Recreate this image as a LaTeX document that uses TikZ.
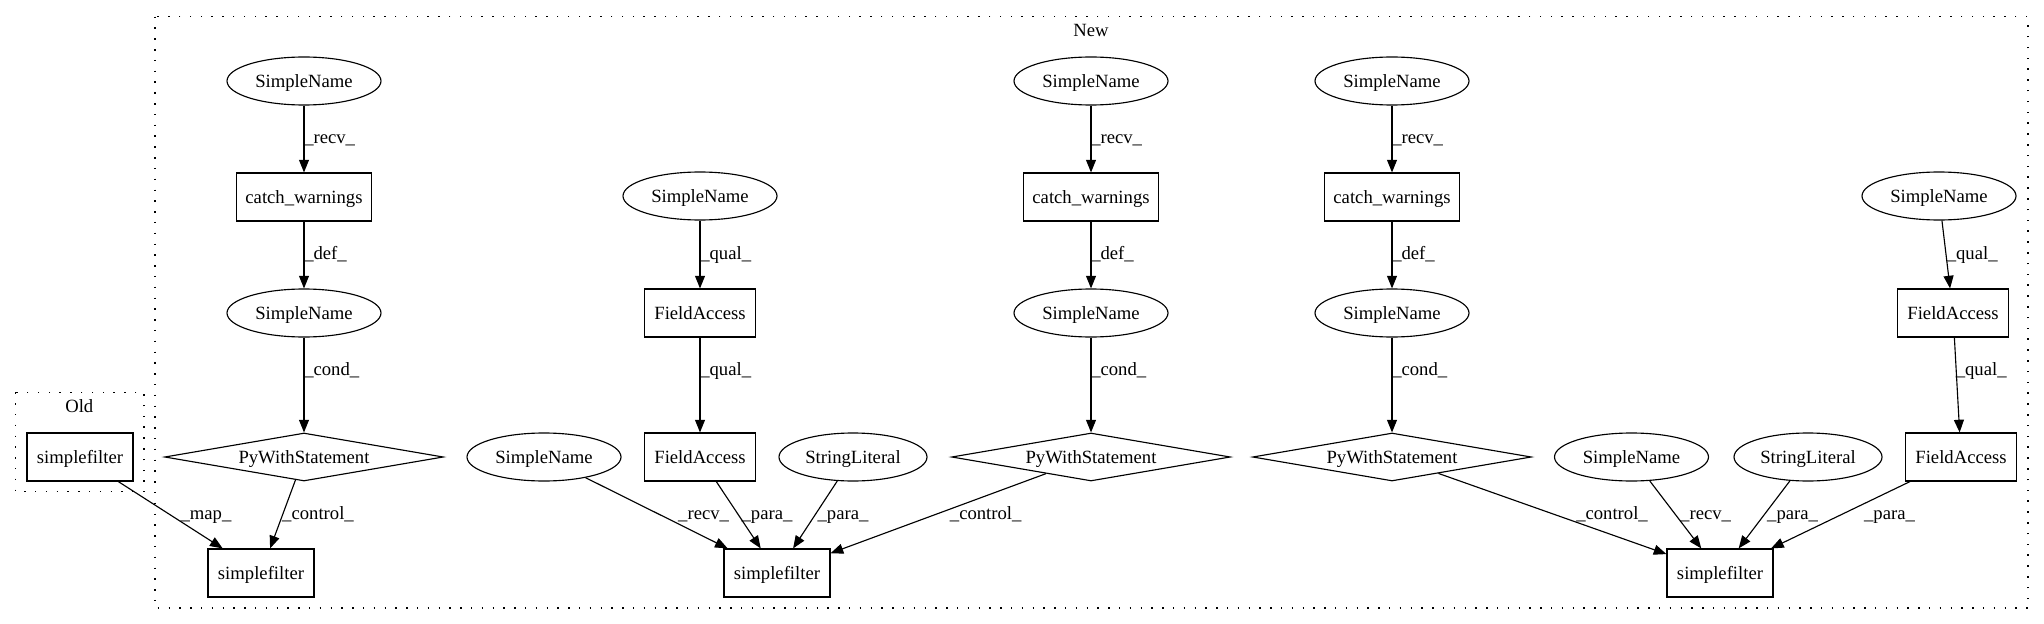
\documentclass[tikz,border=0pt]{standalone}
\usepackage{fontspec}
\setmainfont{Liberation Serif}
\usetikzlibrary{arrows.meta,shapes.geometric}
\begin{document}
\begin{tikzpicture}[x=0.75pt,y=-0.75pt,
  txt/.style={inner sep=0pt, font=\fontsize{14pt}{16pt}\selectfont, text height=11.4pt, text depth=2pt},
  base/.style={txt, draw, line width=0.85pt},
  ell/.style={base, ellipse, minimum width=115.5pt, minimum height=36pt},
  ellw/.style={ell, minimum width=111pt},
  cwbox/.style={base, rectangle, minimum height=36pt, minimum width=101.25pt},
  fabox/.style={base, rectangle, minimum height=36pt, minimum width=83pt},
  sfbox/.style={base, rectangle, minimum height=36pt, minimum width=79.5pt},
  dia/.style={base, diamond, aspect=6, minimum width=209pt, minimum height=36pt},
  lbl/.style={txt},
  lblw/.style={txt, anchor=west},
  edge/.style={line width=0.85pt, -{Triangle[length=9.5pt,width=7.5pt]}},
  cluster/.style={line width=1.1pt, dash pattern=on 1.1pt off 7pt},
]
\useasboundingbox (0,0) rectangle (2044,624);

% clusters
\draw[cluster] (15.6,392.3) rectangle (144,491.7);
\node[txt] (oldlbl) at (79.3,406) {Old};
\draw[cluster] (155,16.7) rectangle (2028,608);
\node[txt] (newlbl) at (1091,30) {New};

% Old
\node[sfbox] (sfold) at (80,457) {simplefilter};

% column 1
\node[ell] (sn1a) at (304,81) {SimpleName};
\node[cwbox] (cw1) at (304,197) {catch\_warnings};
\node[ell] (sn1b) at (304,313) {SimpleName};
\node[dia] (pw1) at (304,457) {PyWithStatement};
\node[sfbox] (sf1) at (261,573) {simplefilter};

% column 2
\node[ell] (sn2a) at (700,196) {SimpleName};
\node[fabox] (fa2a) at (700,313) {FieldAccess};
\node[fabox] (fa2b) at (700,457) {FieldAccess};
\node[ellw] (sl2) at (853,457) {StringLiteral};
\node[ell] (sn2b) at (544,457) {SimpleName};
\node[sfbox] (sf2) at (777,573) {simplefilter};

% column 3
\node[ell] (sn3a) at (1091,81) {SimpleName};
\node[cwbox] (cw3) at (1091,197) {catch\_warnings};
\node[ell] (sn3b) at (1091,313) {SimpleName};
\node[dia] (pw3) at (1091,457) {PyWithStatement};

% column 4
\node[ell] (sn4a) at (1392,81) {SimpleName};
\node[cwbox] (cw4) at (1392,197) {catch\_warnings};
\node[ell] (sn4b) at (1392,313) {SimpleName};
\node[dia] (pw4) at (1392,457) {PyWithStatement};
\node[sfbox] (sf4) at (1720,573) {simplefilter};

% right group
\node[ell] (sn5a) at (1939,196) {SimpleName};
\node[fabox] (fa5a) at (1953,313) {FieldAccess};
\node[fabox] (fa5b) at (1961,457) {FieldAccess};
\node[ell] (sn5b) at (1631.5,457) {SimpleName};
\node[ellw] (sl5) at (1808,457) {StringLiteral};

% edges column 1
\draw[edge] (sn1a) -- (cw1);
\draw[edge] (cw1) -- (sn1b);
\draw[edge] (sn1b) -- (pw1);
\draw[edge] (pw1) -- (sf1);
\draw[edge] (sfold) -- (sf1);
\node[lblw] (l1) at (304,137) {\_recv\_};
\node[lblw] (l2) at (304,253) {\_def\_};
\node[lblw] (l3) at (304,369) {\_cond\_};
\node[lbl] (l4) at (206,513) {\_map\_};
\node[lbl] (l5) at (318,513) {\_control\_};

% edges column 2
\draw[edge] (sn2a) -- (fa2a);
\draw[edge] (fa2a) -- (fa2b);
\draw[edge] (sn2b) -- (sf2);
\draw[edge] (fa2b) -- (sf2);
\draw[edge] (sl2) -- (sf2);
\node[lblw] (l6) at (700,253) {\_qual\_};
\node[lblw] (l7) at (700,369) {\_qual\_};
\node[lbl] (l8) at (703.6,513) {\_recv\_};
\node[lbl] (l9) at (767,513) {\_para\_};
\node[lbl] (l10) at (843,513) {\_para\_};

% edges column 3
\draw[edge] (sn3a) -- (cw3);
\draw[edge] (cw3) -- (sn3b);
\draw[edge] (sn3b) -- (pw3);
\draw[edge] (pw3) -- (sf2);
\node[lblw] (l11) at (1091,137) {\_recv\_};
\node[lblw] (l12) at (1091,253) {\_def\_};
\node[lblw] (l13) at (1091,369) {\_cond\_};
\node[lbl] (l14) at (985.7,513) {\_control\_};

% edges column 4
\draw[edge] (sn4a) -- (cw4);
\draw[edge] (cw4) -- (sn4b);
\draw[edge] (sn4b) -- (pw4);
\draw[edge] (pw4) -- (sf4);
\node[lblw] (l15) at (1392,137) {\_recv\_};
\node[lblw] (l16) at (1392,253) {\_def\_};
\node[lblw] (l17) at (1392,369) {\_cond\_};
\node[lbl] (l18) at (1612,513) {\_control\_};

% edges right group
\draw[edge] (sn5a) -- (fa5a);
\draw[edge] (fa5a) -- (fa5b);
\draw[edge] (sn5b) -- (sf4);
\draw[edge] (sl5) -- (sf4);
\draw[edge] (fa5b) -- (sf4);
\node[lblw] (l19) at (1946.5,253) {\_qual\_};
\node[lblw] (l20) at (1955.5,369) {\_qual\_};
\node[lbl] (l21) at (1705.6,513) {\_recv\_};
\node[lbl] (l22) at (1792.6,513) {\_para\_};
\node[lbl] (l23) at (1889.5,513) {\_para\_};
\end{tikzpicture}
\end{document}
